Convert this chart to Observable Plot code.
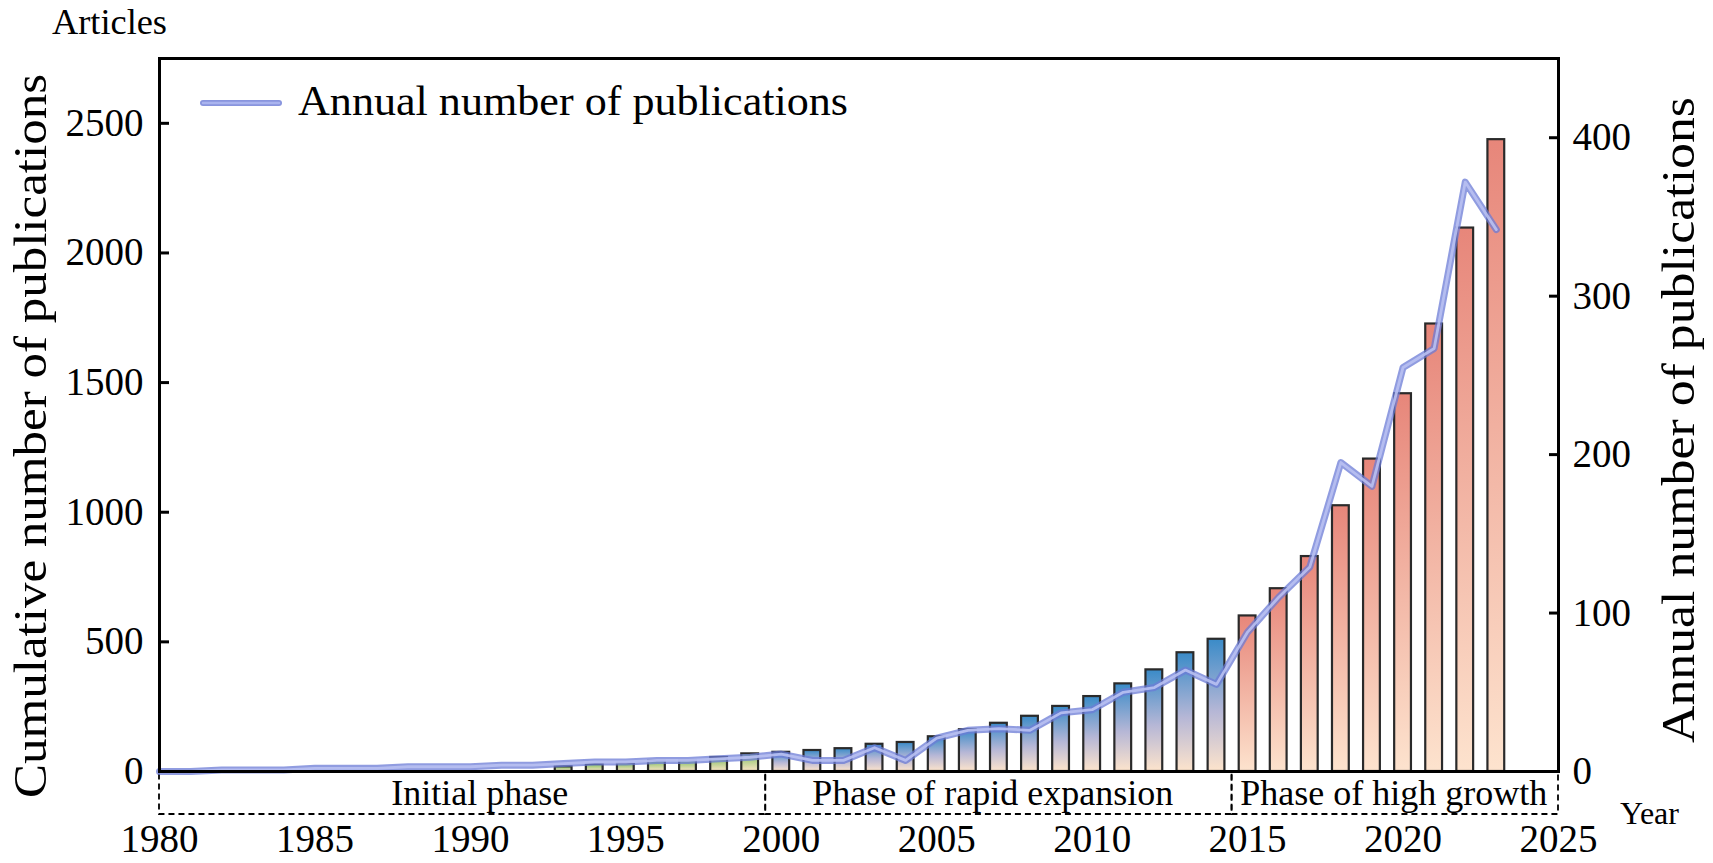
<!DOCTYPE html>
<html><head><meta charset="utf-8">
<script src="https://cdn.jsdelivr.net/npm/d3@7"></script>
<script src="https://cdn.jsdelivr.net/npm/@observablehq/plot@0.6"></script>
<style>
body{margin:0;background:#fff}
svg text{font-family:"Liberation Serif","Times New Roman",serif}
</style>
</head><body><div id="chart"></div>
<script>
// ---- data ----
const lineYears = [1980,1981,1982,1983,1984,1985,1986,1987,1988,1989,1990,1991,1992,1993,1994,1995,1996,1997,1998,1999,2000,2001,2002,2003,2004,2005,2006,2007,2008,2009,2010,2011,2012,2013,2014,2015,2016,2017,2018,2019,2020,2021,2022,2023];
const annual = [0,0,1,1,1,2,2,2,3,3,3,4,4,5,6,6,7,7,8,9,11,7,7,15,7,21,26,27,26,37,39,50,53,64,55,88,110,129,195,180,255,267,372,342];
const barYears = [1993,1994,1995,1996,1997,1998,1999,2000,2001,2002,2003,2004,2005,2006,2007,2008,2009,2010,2011,2012,2013,2014,2015,2016,2017,2018,2019,2020,2021,2022,2023];
const cumulative = [18,27,31,41,42,54,68,74,81,88,105,112,134,161,186,213,251,289,338,392,458,510,600,705,829,1025,1205,1457,1726,2096,2437];
const phaseNames = ["Initial phase","Phase of rapid expansion","Phase of high growth"];
const phaseStart = [1980,1999.5,2014.5];
const phaseEnd = [1999.5,2014.5,2025];
const phaseLabelX = [1990.3,2006.8,2019.7];
const leftTicks = [0,500,1000,1500,2000,2500];
const rightTicks = [0,100,200,300,400];
const xTicks = [1980,1985,1990,1995,2000,2005,2010,2015,2020,2025];
const leftMax = 2750, rightMax = 450;

// ---- tables ----
const k = leftMax / rightMax;
const bars = barYears.map((year, i) => ({year, cum: cumulative[i]}));
const line = lineYears.map((year, i) => ({year, n: annual[i]}));
const phases = phaseNames.map((name, i) => ({name, start: phaseStart[i], end: phaseEnd[i], lx: phaseLabelX[i]}));

const W = 1713, H = 863, mL = 159, mR = 155, mT = 58, mB = 92;
const frameH = H - mT - mB;
const halfW = 0.27;

const barMarks = phases.map((p, i) => Plot.rectY(
  bars.filter(d => d.year >= p.start && d.year < p.end),
  {x1: d => d.year - halfW, x2: d => d.year + halfW, y: "cum", fill: `url(#grad${i})`, stroke: "#2a2a2a", strokeWidth: 2.2}
));

const plot = Plot.plot({
  width: W, height: H,
  marginLeft: mL, marginRight: mR, marginTop: mT, marginBottom: mB,
  x: {domain: [1980, 2025], axis: null},
  y: {domain: [0, leftMax], axis: null},
  style: {fontFamily: "Liberation Serif, Times New Roman, serif", background: "white", color: "black", overflow: "visible"},
  marks: [
    Plot.rect(phases, {x1: "start", x2: "end", insetTop: frameH, insetBottom: -43, fill: "none", stroke: "black", strokeWidth: 1.8, strokeDasharray: "6,4"}),
    Plot.text(phases, {x: "lx", text: "name", frameAnchor: "bottom", dy: 22, lineAnchor: "middle", fontSize: 36, fill: "black"}),
    ...barMarks,
    Plot.line(line, {x: "year", y: d => d.n * k, stroke: "#6b7bd6", strokeWidth: 7, strokeOpacity: 0.75, strokeLinejoin: "round", strokeLinecap: "round"}),
    Plot.line(line, {x: "year", y: d => d.n * k, stroke: "#b9c1f2", strokeWidth: 2.8, strokeOpacity: 0.9, strokeLinejoin: "round", strokeLinecap: "round"}),
    Plot.axisY({anchor: "left", label: null, ticks: leftTicks, tickSize: -10, tickPadding: 26, strokeWidth: 3, fontSize: 39, tickFormat: d => String(d)}),
    Plot.axisY({anchor: "right", label: null, ticks: rightTicks.map(v => v * k), tickSize: -10, tickPadding: 24, strokeWidth: 3, fontSize: 39, tickFormat: d => String(Math.round(d / k))}),
    Plot.axisX({anchor: "bottom", label: null, ticks: xTicks, tickSize: 0, tickPadding: 53, fontSize: 39, tickFormat: d => String(d)}),
    Plot.frame({stroke: "black", strokeWidth: 3})
  ]
});

const svg = d3.select(plot);
const defs = svg.insert("defs", ":first-child");
const grads = [
  [["0%", "#7fbf5f"], ["100%", "#fbe4c6"]],
  [["0%", "#3a8bc8"], ["55%", "#b6b7d6"], ["100%", "#fde4cc"]],
  [["0%", "#e7867a"], ["100%", "#fde3ce"]]
];
grads.forEach((stops, i) => {
  const g = defs.append("linearGradient").attr("id", "grad" + i).attr("x1", 0).attr("y1", 0).attr("x2", 0).attr("y2", 1);
  stops.forEach(([o, c]) => g.append("stop").attr("offset", o).attr("stop-color", c));
});

const ann = svg.append("g").attr("font-family", "Liberation Serif, Times New Roman, serif").attr("fill", "black").attr("text-anchor", "start");
// legend
ann.append("line").attr("x1", 203).attr("x2", 279).attr("y1", 103).attr("y2", 103)
  .attr("stroke", "#6b7bd6").attr("stroke-width", 6).attr("stroke-linecap", "round").attr("stroke-opacity", 0.8);
ann.append("line").attr("x1", 203).attr("x2", 279).attr("y1", 103).attr("y2", 103)
  .attr("stroke", "#aab4ef").attr("stroke-width", 2.5).attr("stroke-linecap", "round");
ann.append("text").attr("x", 298).attr("y", 115).attr("text-anchor", "start").attr("font-size", 42)
  .attr("textLength", 550).attr("lengthAdjust", "spacingAndGlyphs")
  .text("Annual number of publications");
// axis titles
ann.append("text").attr("transform", "translate(30,436) rotate(-90)").attr("text-anchor", "middle")
  .attr("dominant-baseline", "central").attr("font-size", 46).attr("textLength", 724).attr("lengthAdjust", "spacingAndGlyphs")
  .text("Cumulative number of publications");
ann.append("text").attr("transform", "translate(1678,420) rotate(-90)").attr("text-anchor", "middle")
  .attr("dominant-baseline", "central").attr("font-size", 46).attr("textLength", 646).attr("lengthAdjust", "spacingAndGlyphs")
  .text("Annual number of publications");
ann.append("text").attr("x", 52).attr("y", 34).attr("text-anchor", "start").attr("font-size", 35)
  .attr("textLength", 115).attr("lengthAdjust", "spacingAndGlyphs").text("Articles");
ann.append("text").attr("x", 1620).attr("y", 824).attr("text-anchor", "start").attr("font-size", 32).text("Year");

document.getElementById("chart").appendChild(plot);
</script>
</body></html>
